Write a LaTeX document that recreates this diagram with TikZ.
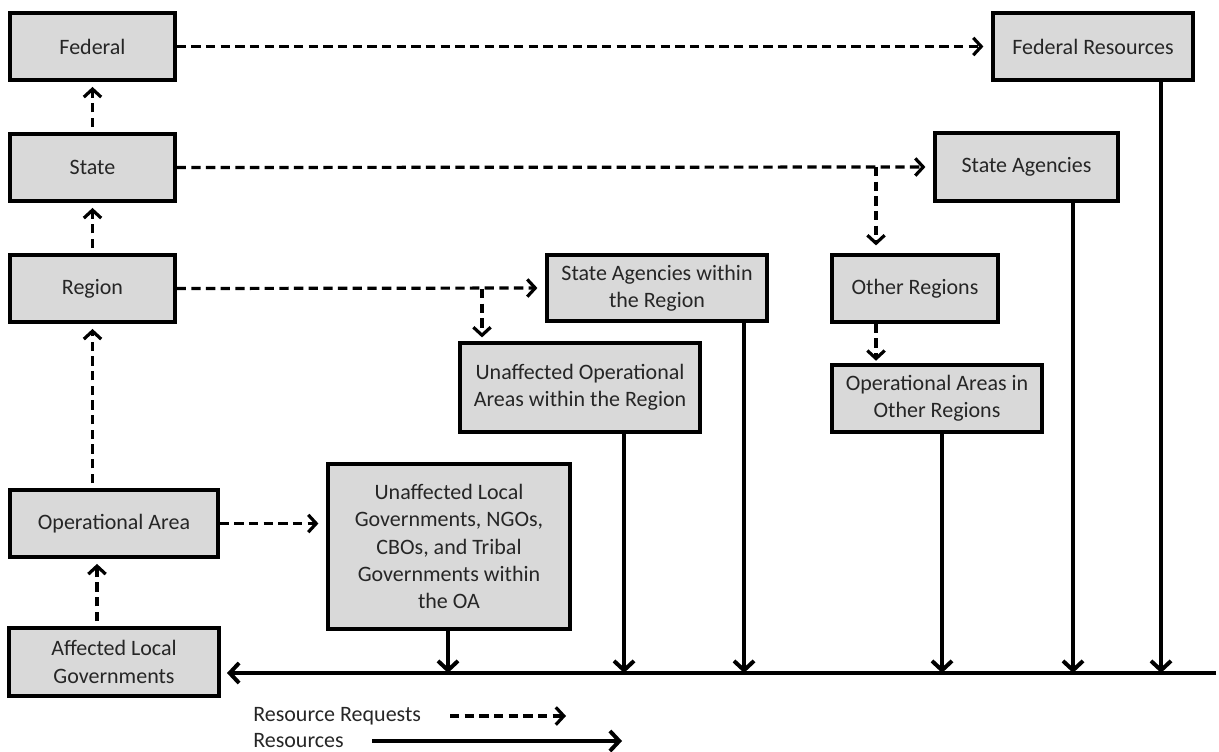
\documentclass[tikz,border=0pt]{standalone}
\usepackage{fontspec}
\setmainfont{Carlito}
\usetikzlibrary{arrows.meta}
\definecolor{boxfill}{HTML}{D9D9D9}
\definecolor{txt}{HTML}{262626}
\tikzset{
  box/.style={draw=black, fill=boxfill, line width=2.4pt, align=center, inner sep=0pt,
    text=txt, font=\fontsize{16.5}{20.5}\selectfont},
  req/.style={line width=2.4pt, dash pattern=on 7pt off 4pt,
    -{Straight Barb[length=6pt,width=13pt,line width=2.4pt]}},
  res/.style={line width=3pt, -{Straight Barb[length=7pt,width=15pt,line width=3pt]}},
  lab/.style={text=txt, font=\fontsize{16.5}{20.5}\selectfont, inner sep=0pt, anchor=west}
}
\newcommand{\bx}[6]{\node[box, minimum width=#4*0.75pt, minimum height=#5*0.75pt] (#1) at (#2,#3) {#6};}
\begin{document}
\begin{tikzpicture}[x=0.75pt, y=-0.75pt]
\useasboundingbox (0,0) rectangle (1219,752);
% boxes
\bx{fed}{92.5}{46.5}{165}{67}{Federal}
\bx{state}{92.5}{167.5}{165}{67}{State}
\bx{region}{92.5}{288.5}{165}{67}{Region}
\bx{oa}{114}{523.5}{208}{67}{Operational Area}
\bx{alg}{114}{662}{210}{68}{Affected Local\\Governments}
\bx{ulg}{449}{546.5}{242}{165}{Unaffected Local\\Governments, NGOs,\\CBOs, and Tribal\\Governments within\\the OA}
\bx{uoa}{580}{387.5}{240}{89}{Unaffected Operational\\Areas within the Region}
\bx{sawr}{657}{288}{220}{66}{State Agencies within\\the Region}
\bx{othr}{915}{288.5}{166}{67}{Other Regions}
\bx{oaor}{937}{398.5}{210}{67}{Operational Areas in\\Other Regions}
\bx{sa}{1026.5}{167}{183}{68}{State Agencies}
\bx{fr}{1093}{46.5}{200}{67}{Federal Resources}
% coordinates
\coordinate (busL) at (227,673);
\coordinate (busR) at (1216,673);
\coordinate (t1) at (448,673);
\coordinate (t2) at (624,673);
\coordinate (t3) at (744,673);
\coordinate (t4) at (942,673);
\coordinate (t5) at (1073,673);
\coordinate (t6) at (1161,673);
\coordinate (b1) at (876,167);
\coordinate (b2) at (482,289);
\coordinate (c1) at (97,0);
\coordinate (c2) at (92.5,0);
% resource bus
\draw[res] (busR) -- (busL);
\draw[res] (ulg.south -| t1) -- (t1);
\draw[res] (uoa.south -| t2) -- (t2);
\draw[res] (sawr.south -| t3) -- (t3);
\draw[res] (oaor.south -| t4) -- (t4);
\draw[res] (sa.south -| t5) -- (t5);
\draw[res] (fr.south -| t6) -- (t6);
% requests
\draw[req, shorten >=6pt] (fed.east) -- (fr.west);
\draw[req, shorten >=6pt] (state.east) -- (sa.west);
\draw[req, shorten >=6pt] (b1) -- (b1 |- othr.north);
\draw[req, shorten >=2pt] (othr.south -| b1) -- (oaor.north -| b1);
\draw[req, shorten >=6pt] (region.east) -- (sawr.west);
\draw[req, shorten >=3pt] (b2) -- (b2 |- uoa.north);
\draw[req, shorten >=6pt] (oa.east) -- (oa.east -| ulg.west);
\draw[req, shorten <=4pt, shorten >=4pt] (state.north) -- (fed.south);
\draw[req, shorten <=4pt, shorten >=4pt] (region.north) -- (state.south);
\draw[req, shorten <=4pt, shorten >=4pt] (oa.north -| c2) -- (region.south);
\draw[req, shorten <=4pt, shorten >=4pt] (alg.north -| c1) -- (oa.south -| c1);
% legend
\node[lab] (l1) at (253,716) {Resource Requests};
\node[lab] (l2) at (253,741) {Resources};
\coordinate (la1) at (450,716);
\coordinate (la2) at (566,716);
\coordinate (lb1) at (372,741);
\coordinate (lb2) at (622,741);
\draw[req] (la1) -- (la2);
\draw[res] (lb1) -- (lb2);
\end{tikzpicture}
\end{document}
